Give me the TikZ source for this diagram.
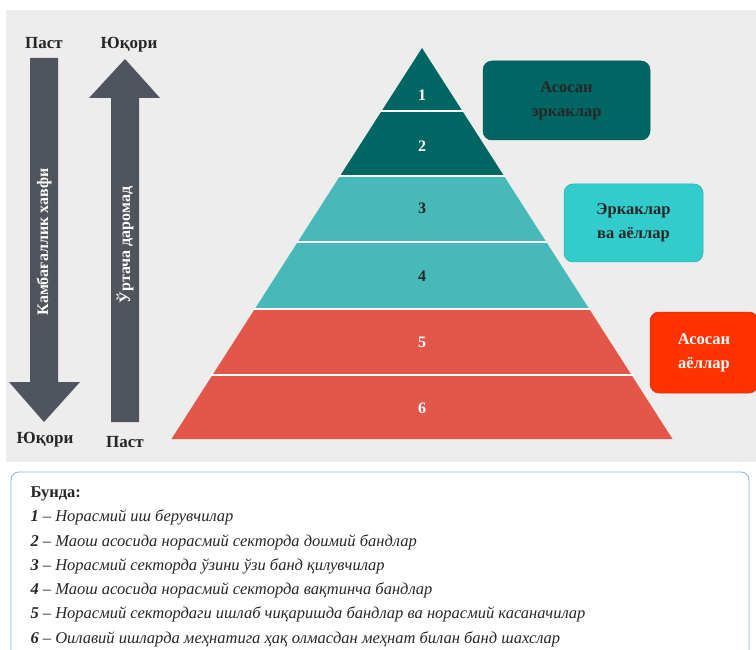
\documentclass[tikz,border=0pt]{standalone}
\usepackage{fontspec}
\setmainfont{Liberation Serif}
\usetikzlibrary{positioning}
\definecolor{fon}{HTML}{EDEDED}
\definecolor{strcol}{HTML}{50545D}
\definecolor{tq}{HTML}{006663}
\definecolor{tm}{HTML}{48B9B9}
\definecolor{kr}{HTML}{E3574A}
\definecolor{cyanbox}{HTML}{33CCCC}
\definecolor{orbox}{HTML}{FF3300}
\definecolor{ramkacol}{HTML}{8AB0DC}
\definecolor{tekst}{HTML}{262626}

\begin{document}
\begin{tikzpicture}[
x=1pt, y=-1pt,
metka/.style={font=\bfseries\fontsize{17}{17}\selectfont, text=tekst},
nomer/.style={font=\bfseries\fontsize{16}{16}\selectfont},
plashka/.style={rounded corners=9pt, fill=#1, draw=#1!85!black, line width=0.5pt,
  align=center, inner sep=0pt, font=\bfseries\fontsize{16.5}{24}\selectfont},
stroka/.style={anchor=base west, font=\itshape\fontsize{16.5}{16.5}\selectfont, text=tekst},
]
\useasboundingbox (0,0) rectangle (756,650);
\fill[fon] (6,10) rectangle (756,462);

% стрелки
\fill[strcol] (30,58) -- (58,58) -- (58,382) -- (80,382) -- (44,422)
  -- (9,382) -- (30,382) -- cycle;
\fill[strcol] (111,422) -- (111,98) -- (89,98) -- (125,59) -- (160,98)
  -- (139,98) -- (139,422) -- cycle;
\node[metka, anchor=base] (pastA) at (44,49) {Паст};
\node[metka, anchor=base] (yuqoriA) at (129,49) {Юқори};
\node[metka, anchor=base] (yuqoriB) at (45,443) {Юқори};
\node[metka, anchor=base] (pastB) at (125,447) {Паст};
\node[rotate=90, text=white, font=\bfseries\fontsize{16}{16}\selectfont]
  (xavf) at (44,242) {Камбағаллик хавфи};
\node[rotate=90, text=white, font=\bfseries\fontsize{16}{16}\selectfont]
  (daromad) at (125,245) {Ўртача даромад};

% пирамида
\foreach \a/\b/\c/\y/\t/\n in {48/111/tq/95/white/1, 111/176/tq/146/white/2,
  176/242/tm/208/tekst/3, 242/309/tm/276/tekst/4,
  309/375/kr/342/white/5, 375/439/kr/408/white/6}{
  \fill[\c] ({422-0.6407*(\a-48)},\a) -- ({422+0.6407*(\a-48)},\a)
    -- ({422+0.6407*(\b-48)},\b) -- ({422-0.6407*(\b-48)},\b) -- cycle;
  \node[nomer, text=\t] (p\n) at (422,\y) {\n};
}
\foreach \a in {111,176,242,309,375}
  \draw[white, line width=1.5pt] ({421-0.6407*(\a-48)},\a) -- ({423+0.6407*(\a-48)},\a);

% плашки
\node[plashka=tq, text=tekst, minimum width=167pt, minimum height=79pt]
  (erkak) at (566.5,100.5) {Асосан\\эркаклар};
\node[plashka=cyanbox, text=tekst, minimum width=139pt, minimum height=78pt]
  (ikki) at (633.5,223) {Эркаклар\\ва аёллар};
\node[plashka=orbox, text=white, minimum width=108pt, minimum height=81pt]
  (ayol) at (704,352.5) {Асосан\\аёллар};

% пояснения
\draw[ramkacol, line width=0.8pt, rounded corners=8pt] (11,472) rectangle (749,690);
\node[anchor=base west, font=\bfseries\fontsize{16.5}{16.5}\selectfont, text=tekst]
  (bunda) at (27,497) {Бунда:};
\foreach \n/\y/\s in {1/521/Норасмий иш берувчилар,
  2/546/Маош асосида норасмий секторда доимий бандлар,
  3/570/Норасмий секторда ўзини ўзи банд қилувчилар,
  4/594/Маош асосида норасмий секторда вақтинча бандлар,
  5/618/Норасмий сектордаги ишлаб чиқаришда бандлар ва норасмий касаначилар,
  6/643/Оилавий ишларда меҳнатига ҳақ олмасдан меҳнат билан банд шахслар}
  \node[stroka] (l\n) at (27,\y) {\textbf{\n} {\upshape –} \s};
\end{tikzpicture}
\end{document}
